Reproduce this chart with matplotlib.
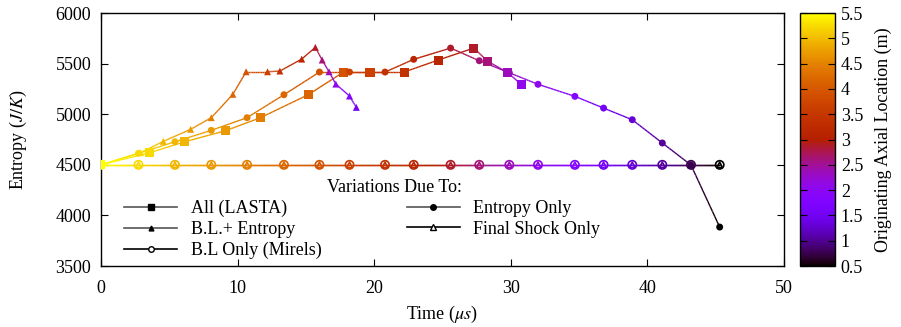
import numpy as np
import matplotlib
matplotlib.use("Agg")
import matplotlib.pyplot as plt
from matplotlib.collections import LineCollection
from matplotlib.lines import Line2D
from matplotlib.colors import Normalize

plt.rcParams['font.family'] = ['Liberation Serif', 'DejaVu Serif']
plt.rcParams['mathtext.fontset'] = 'stix'
plt.rcParams['font.size'] = 13

# originating axial location (m) of each tracked parcel, by index
location = [5.5, 5.24, 4.97, 4.71, 4.45, 4.18, 3.92, 3.66, 3.39, 3.13,
            2.87, 2.61, 2.34, 2.08, 1.82, 1.55, 1.29, 1.03, 0.76, 0.5]

# entropy only / B.L only / final shock only share the same arrival times
t_base = [0.0, 2.75, 5.42, 8.08, 10.7, 13.4, 16.0, 18.2, 20.8, 22.9,
          25.6, 27.7, 29.9, 32.0, 34.7, 36.8, 38.9, 41.1, 43.2, 45.3]
s_entropy = [4500, 4614, 4728, 4841, 4966, 5193, 5417, 5417, 5417, 5543,
             5654, 5529, 5410, 5296, 5177, 5061, 4946, 4716, 4498, 3885]
s_mirels = [4500] * 20
s_shock = [4500] * 20

t_lasta = [0.0, 3.58, 6.13, 9.12, 11.68, 15.18, 17.76, 19.7, 22.2, 24.7,
           27.3, 28.3, 29.8, 30.8]
s_lasta = [4500, 4620, 4728, 4837, 4966, 5193, 5417, 5417, 5417, 5536,
           5654, 5526, 5410, 5292]

t_blent = [0.0, 2.9, 4.57, 6.57, 8.08, 9.66, 10.63, 12.2, 13.1, 14.7,
           15.7, 16.2, 16.7, 17.2, 18.2, 18.7]
s_blent = [4500, 4620, 4732, 4851, 4966, 5197, 5420, 5420, 5427, 5545,
           5661, 5536, 5420, 5298, 5180, 5068]

cmap = plt.get_cmap('gnuplot')
norm = Normalize(0.5, 5.5)


def palette_line(ax, t, s, z, nsub=12):
    # split every segment so the colour runs smoothly along the line
    segs, vals = [], []
    for i in range(len(t) - 1):
        f = np.linspace(0, 1, nsub + 1)
        xs = t[i] + f * (t[i+1] - t[i])
        ys = s[i] + f * (s[i+1] - s[i])
        zs = z[i] + f * (z[i+1] - z[i])
        for k in range(nsub):
            segs.append([(xs[k], ys[k]), (xs[k+1], ys[k+1])])
            vals.append(0.5 * (zs[k] + zs[k+1]))
    lc = LineCollection(segs, cmap=cmap, norm=norm, linewidths=1.0)
    lc.set_array(np.array(vals))
    ax.add_collection(lc)


def palette_marks(ax, t, s, z, marker, ms, filled=True):
    cols = cmap(norm(np.array(z)))
    if filled:
        ax.scatter(t, s, s=ms**2, marker=marker, c=cols, edgecolors='none', zorder=3)
    else:
        ax.scatter(t, s, s=ms**2, marker=marker, facecolors='none',
                   edgecolors=cols, linewidths=1.2, zorder=3)


fig = plt.figure(figsize=(9.01, 3.27), dpi=100)
ax = fig.add_axes([0.112, 0.1865, 0.758, 0.7735])
cax = fig.add_axes([0.888, 0.1865, 0.039, 0.7735])

series = [
    (t_lasta, s_lasta, 's', 6.5, True),
    (t_blent, s_blent, '^', 5.0, True),
    (t_base, s_mirels, 'o', 6.0, False),
    (t_base, s_entropy, 'o', 5.0, True),
    (t_base, s_shock, '^', 4.0, False),
]
for t, s, mk, ms, filled in series:
    z = location[:len(t)]
    palette_line(ax, t, s, z)
    palette_marks(ax, t, s, z, mk, ms, filled)

ax.set_xlim(0, 50)
ax.set_ylim(3500, 6000)
ax.set_xticks(range(0, 51, 10))
ax.set_yticks(range(3500, 6001, 500))
ax.tick_params(direction='in', top=True, right=True, length=5, width=0.8, pad=7)
ax.tick_params(axis='x', pad=10)
for sp in ax.spines.values():
    sp.set_linewidth(1.0)
ax.set_xlabel(r'Time ($\mu s$)', labelpad=5)
ax.set_ylabel(r'Entropy ($J/K$)', labelpad=19)

gray = '#555555'
handles = [
    Line2D([], [], color=gray, lw=1.2, marker='s', ms=5, mfc='k', mec='k'),
    Line2D([], [], color=gray, lw=1.2, marker='^', ms=3.5, mfc='k', mec='k'),
    Line2D([], [], color='k', lw=1.2, marker='o', ms=4, mfc='white', mec='k'),
    Line2D([], [], color=gray, lw=1.2, marker='o', ms=4, mfc='k', mec='k'),
    Line2D([], [], color='k', lw=1.2, marker='^', ms=4, mfc='white', mec='k'),
]
labels = ['All (LASTA)', 'B.L.+ Entropy', 'B.L Only (Mirels)',
          'Entropy Only', 'Final Shock Only']
leg = ax.legend(handles, labels, ncol=2, frameon=False, loc='lower left',
                bbox_to_anchor=(0.013, -0.03), handlelength=2.95,
                handletextpad=0.75, columnspacing=4.7, labelspacing=0.22,
                borderpad=0.3, fontsize=13)
ax.text(0.331, 0.312, 'Variations Due To:', transform=ax.transAxes,
        ha='left', va='center', fontsize=13)

cb = fig.colorbar(plt.cm.ScalarMappable(norm=norm, cmap=cmap), cax=cax)
cb.set_ticks(np.arange(0.5, 5.51, 0.5))
cb.set_ticklabels(['0.5', '1', '1.5', '2', '2.5', '3', '3.5', '4', '4.5', '5', '5.5'])
cax.tick_params(direction='in', left=True, right=True, length=5, width=0.8, pad=4)
cb.outline.set_linewidth(1.0)
cb.set_label('Originating Axial Location (m)', labelpad=8)

fig.savefig('out.png', dpi=100)
